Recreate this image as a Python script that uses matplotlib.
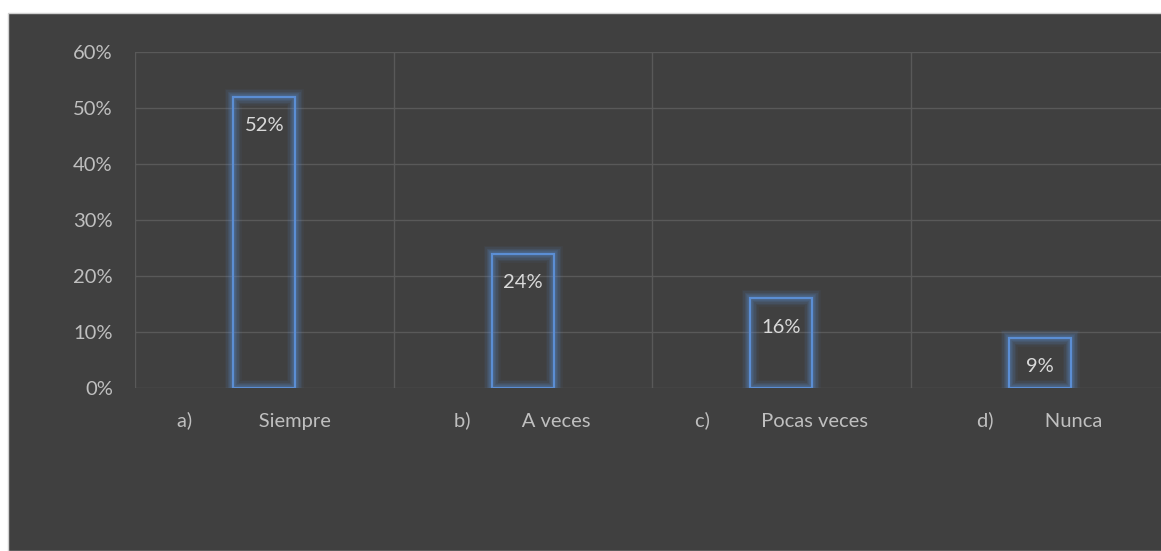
import matplotlib
matplotlib.use("Agg")
import matplotlib.pyplot as plt
from matplotlib.patches import Rectangle
from matplotlib.ticker import PercentFormatter, FixedLocator

tick_labels = ["a)             Siempre    ", "b)          A veces",
               "c)          Pocas veces", "d)          Nunca"]
values = [0.52, 0.24, 0.16, 0.09]
yticks = [0.0, 0.1, 0.2, 0.3, 0.4, 0.5, 0.6]

BG = "#404040"
GRID = "#595959"
EDGE = "#5b8ed4"
TXT = "#bfbfbf"
LBL = "#d9d9d9"

plt.rcParams['font.family'] = ['Lato', 'DejaVu Sans']

W, H = 1161, 551
fig = plt.figure(figsize=(W / 100, H / 100), dpi=100)
fig.patch.set_facecolor("white")
fig.patches.append(Rectangle((8 / W, 0), 1, 1 - 13 / H, transform=fig.transFigure,
                             facecolor=BG, edgecolor="#d0d0d0", linewidth=1, zorder=-10))

left, right = 135 / W, 1169 / W
bottom, top = 1 - 388 / H, 1 - 52 / H
ax = fig.add_axes([left, bottom, right - left, top - bottom])
ax.set_zorder(1)
ax.patch.set_alpha(0)

x = list(range(len(values)))
# soft glow layers
for lw, a in [(12, 0.06), (10, 0.08), (8, 0.10), (6, 0.13), (4, 0.17)]:
    ax.bar(x, values, width=0.24, facecolor="none", edgecolor=EDGE, linewidth=lw,
           alpha=a, zorder=3)
ax.bar(x, values, width=0.24, facecolor="none", edgecolor=EDGE, linewidth=1.6, zorder=4)

for xi, v in zip(x, values):
    ax.annotate(f"{round(v * 100)}%", (xi, v), xytext=(0, -21), textcoords="offset points",
                ha="center", va="center", color=LBL, fontsize=14.5, zorder=5)

ax.set_xlim(-0.5, len(values) - 0.5)
ax.set_ylim(0, 0.6)
ax.yaxis.set_major_locator(FixedLocator(yticks))
ax.yaxis.set_major_formatter(PercentFormatter(1.0, decimals=0))
ax.set_xticks(x)
ax.set_xticklabels(tick_labels)
ax.xaxis.set_minor_locator(FixedLocator([i - 0.5 for i in range(len(values) + 1)]))

ax.grid(axis="y", which="major", color=GRID, linewidth=1, zorder=1)
ax.grid(axis="x", which="minor", color=GRID, linewidth=1, zorder=1)
ax.grid(axis="x", which="major", visible=False)

for s in ax.spines.values():
    s.set_visible(False)
ax.tick_params(axis="both", which="both", length=0, colors=TXT, labelsize=14.5)
ax.tick_params(axis="y", pad=16)
ax.tick_params(axis="x", pad=17)

fig.savefig("out.png", dpi=100, facecolor=fig.get_facecolor())
